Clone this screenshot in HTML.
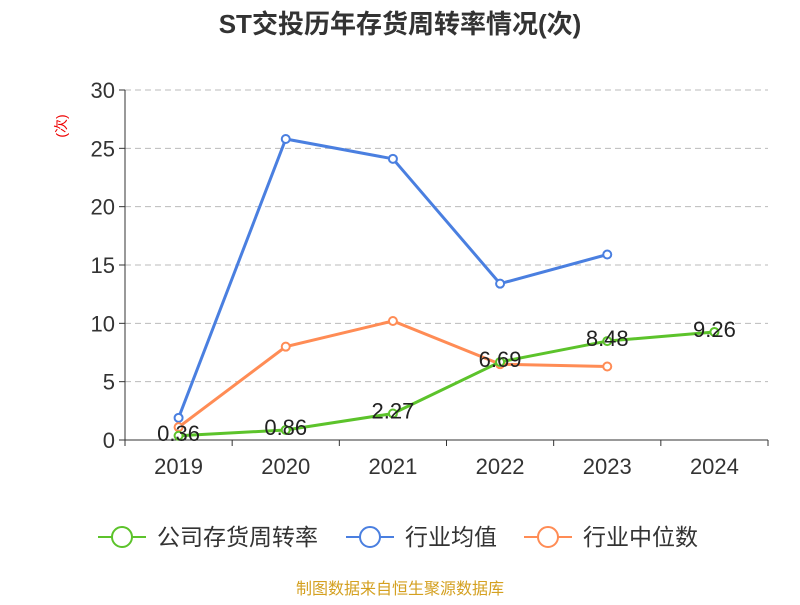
<!DOCTYPE html>
<html><head><meta charset="utf-8"><style>
body{margin:0;background:#fff;}
svg text{font-family:"Liberation Sans","Noto Sans CJK SC",sans-serif;}
</style></head><body>
<svg id="chart" width="800" height="600" xmlns="http://www.w3.org/2000/svg">
<text x="400" y="33" text-anchor="middle" font-size="26" font-weight="bold" fill="#333">ST交投历年存货周转率情况(次)</text>
<text x="0" y="0" transform="translate(66,126) rotate(-90)" text-anchor="middle" font-size="14" fill="#e00">(次)</text>
<g id="grid"></g><g id="axes"></g><g id="series"></g>
<g>
<g><line x1="98" y1="537" x2="146" y2="537" stroke="#5cc32b" stroke-width="2"/><circle cx="122" cy="537" r="10" fill="#fff" stroke="#5cc32b" stroke-width="2"/><text x="157" y="545" font-size="23" fill="#333">公司存货周转率</text></g>
<g><line x1="346" y1="537" x2="394" y2="537" stroke="#4a7fe0" stroke-width="2"/><circle cx="370" cy="537" r="10" fill="#fff" stroke="#4a7fe0" stroke-width="2"/><text x="405" y="545" font-size="23" fill="#333">行业均值</text></g>
<g><line x1="524" y1="537" x2="572" y2="537" stroke="#ff8c55" stroke-width="2"/><circle cx="548" cy="537" r="10" fill="#fff" stroke="#ff8c55" stroke-width="2"/><text x="583" y="545" font-size="23" fill="#333">行业中位数</text></g>
</g>
<text x="400" y="594" text-anchor="middle" font-size="16" fill="#d4a020">制图数据来自恒生聚源数据库</text>
</svg>
<script>
const categories=["2019","2020","2021","2022","2023","2024"];
const companyValues=[0.36,0.86,2.27,6.69,8.48,9.26];
const industryMean=[1.9,25.8,24.1,13.4,15.9];
const industryMedian=[1.1,8.0,10.2,6.5,6.3];
const yTicks=[0,5,10,15,20,25,30];
const NS="http://www.w3.org/2000/svg";
const x0=125,x1=768,y0=440,y1=90,yMax=30;
const bw=(x1-x0)/categories.length;
const xs=i=>x0+bw*(i+0.5);
const ys=v=>y0-(v/yMax)*(y0-y1);
function mk(tag,attrs,parent){const e=document.createElementNS(NS,tag);for(const k in attrs)e.setAttribute(k,attrs[k]);parent.appendChild(e);return e;}
const grid=document.getElementById('grid'),axes=document.getElementById('axes'),series=document.getElementById('series');
yTicks.forEach(t=>{
  const y=ys(t);
  if(t>0){const g=mk('line',{x1:x0,x2:x1,y1:y,y2:y,stroke:'#bbb','stroke-dasharray':'6,4'},grid);
  
  }
  const tk=mk('line',{x1:x0-6,x2:x0,y1:y,y2:y,stroke:'#333'},axes);
  
  
  const tx=mk('text',{x:x0-10,y:y+8,'text-anchor':'end','font-size':'22',fill:'#333'},axes);
  
  
  tx.textContent=t;
});
const ya=mk('line',{x1:x0,x2:x0,y1:y1,y2:y0,stroke:'#333'},axes);


const xa=mk('line',{x1:x0,x2:x1,y1:y0,y2:y0,stroke:'#333'},axes);


for(let i=0;i<=categories.length;i++){const tk=mk('line',{x1:x0+bw*i,x2:x0+bw*i,y1:y0,y2:y0+6,stroke:'#333'},axes);

}
categories.forEach((c,i)=>{const t=mk('text',{x:xs(i),y:y0+34,'text-anchor':'middle','font-size':'22',fill:'#333'},axes);


t.textContent=c;});
function drawSeries(vals,color,name,labels){
  const pts=vals.map((v,i)=>xs(i)+','+ys(v)).join(' ');
  const pl=mk('polyline',{points:pts,fill:'none',stroke:color,'stroke-width':3},series);
  
  
  vals.forEach((v,i)=>{
    const c=mk('circle',{cx:xs(i),cy:ys(v),r:4,fill:'#fff',stroke:color,'stroke-width':2},series);
    
    
    if(labels){const t=mk('text',{x:xs(i),y:ys(v)+5,'text-anchor':'middle','font-size':'22',fill:'#222'},series);
    
    
    t.textContent=v.toFixed(2);}
  });
}
drawSeries(industryMean,'#4a7fe0','industry-mean',false);
drawSeries(industryMedian,'#ff8c55','industry-median',false);
drawSeries(companyValues,'#5cc32b','company',true);
</script>
</body></html>
